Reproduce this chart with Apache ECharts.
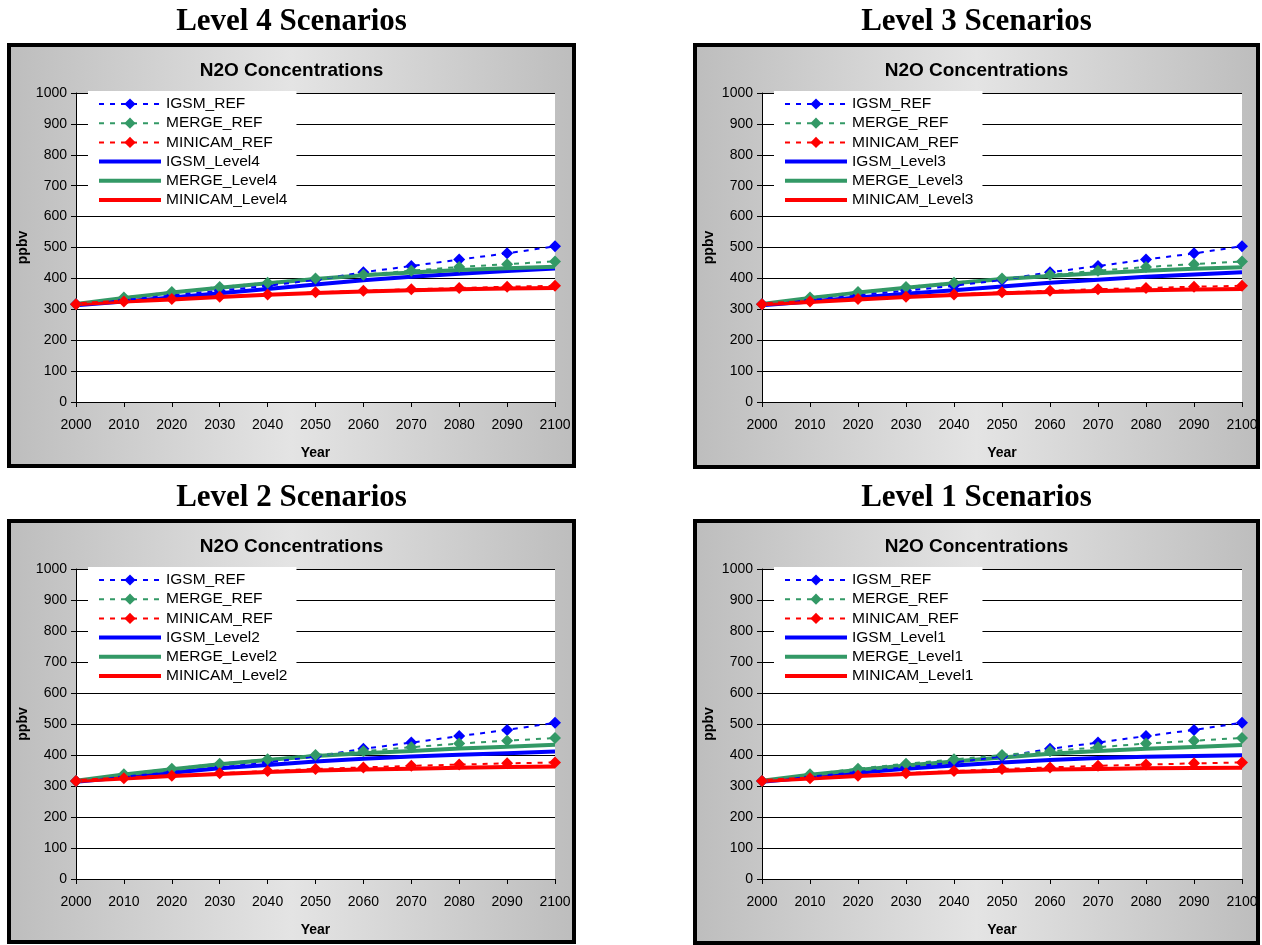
<!DOCTYPE html>
<html>
<head>
<meta charset="utf-8">
<script src="https://cdn.jsdelivr.net/npm/echarts@6/dist/echarts.min.js"></script>
<style>
html,body{margin:0;padding:0;background:#fff;}
#chart{width:1262px;height:945px;}
</style>
</head>
<body>
<div id="chart"></div>
<script>
// ---- data ----
const years = ['2000','2010','2020','2030','2040','2050','2060','2070','2080','2090','2100'];
const levelNames = ['4','3','2','1'];
const panelTitle = 'N2O Concentrations';
const yAxisName = 'ppbv';
const xAxisName = 'Year';

const igsmRef    = [316, 330, 345, 360, 376, 395, 420, 440, 461, 481, 504];
const mergeRef   = [316, 338, 356, 372, 386, 400, 412, 425, 437, 446, 455];
const minicamRef = [316, 325, 333, 341, 348, 355, 360, 365, 369, 373, 376];

const igsmL4    = [313, 325, 338, 352, 366, 380, 394, 405, 415, 424, 432];
const mergeL4   = [317, 337, 354, 370, 384, 398, 410, 419, 427, 433, 438];
const minicamL4 = [316, 325, 332, 340, 347, 353, 358, 362, 365, 367, 369];

const igsmL3    = [313, 325, 338, 350, 362, 374, 386, 396, 405, 413, 420];
const mergeL3   = [317, 337, 354, 370, 384, 398, 408, 417, 425, 431, 436];
const minicamL3 = [316, 324, 332, 340, 346, 352, 356, 359, 362, 364, 366];

const igsmL2    = [314, 328, 343, 357, 368, 379, 388, 395, 401, 406, 411];
const mergeL2   = [317, 337, 354, 370, 384, 397, 406, 413, 421, 427, 433];
const minicamL2 = [316, 324, 332, 339, 345, 350, 353, 356, 359, 361, 363];

const igsmL1    = [314, 328, 343, 356, 366, 376, 384, 390, 394, 397, 399];
const mergeL1   = [317, 336, 352, 366, 379, 392, 404, 413, 420, 426, 432];
const minicamL1 = [316, 324, 332, 339, 345, 349, 353, 355, 357, 358, 359];

const levelData = [
  [igsmL4, mergeL4, minicamL4],
  [igsmL3, mergeL3, minicamL3],
  [igsmL2, mergeL2, minicamL2],
  [igsmL1, mergeL1, minicamL1]
];

// ---- layout ----
const FONT = '"Liberation Sans", Arial, sans-serif';
const grids = [
  {left:76, top:93, width:479, height:309},
  {left:762, top:93, width:480, height:309},
  {left:76, top:569, width:479, height:310},
  {left:762, top:569, width:480, height:310}
];
const frames = [
  {x:9, y:45, w:565, h:421},
  {x:695, y:45, w:563, h:422},
  {x:9, y:521, w:565, h:421},
  {x:695, y:521, w:563, h:422}
];
const colors = {igsm:'#0000ff', merge:'#339966', minicam:'#ff0000'};

const option = {
  animation:false,
  backgroundColor:'#ffffff',
  grid:[], xAxis:[], yAxis:[], series:[], legend:[], graphic:[]
};

grids.forEach((g, i) => {
  const f = frames[i];
  const cx = f.x + f.w/2;
  option.graphic.push({
    type:'rect', z:-100,
    shape:{x:f.x, y:f.y, width:f.w, height:f.h},
    style:{
      fill:new echarts.graphic.LinearGradient(0,0,1,0,[
        {offset:0, color:'#bdbdbd'},
        {offset:0.5, color:'#e4e4e4'},
        {offset:1, color:'#bdbdbd'}
      ]),
      stroke:'#000', lineWidth:4
    }
  });
  option.graphic.push({
    type:'text', z:10, x:cx, y:f.y - 23,
    style:{text:'Level ' + levelNames[i] + ' Scenarios', font:'bold 31px "Liberation Serif", "Times New Roman", serif',
      fill:'#000', textAlign:'center', textVerticalAlign:'middle'}
  });
  option.graphic.push({
    type:'text', z:10, x:cx, y:f.y + 26,
    style:{text:panelTitle, font:'bold 19px ' + FONT,
      fill:'#000', textAlign:'center', textVerticalAlign:'middle'}
  });

  option.grid.push({left:g.left, top:g.top, width:g.width, height:g.height,
    show:true, backgroundColor:'#ffffff', borderWidth:0, containLabel:false});
  option.xAxis.push({
    type:'category', gridIndex:i, data:years, boundaryGap:false,
    name:xAxisName, nameLocation:'middle', nameGap:44,
    nameTextStyle:{fontFamily:FONT, fontWeight:'bold', fontSize:14, color:'#000'},
    axisLine:{lineStyle:{color:'#000', width:1}},
    axisTick:{show:true, length:5, lineStyle:{color:'#000'}},
    axisLabel:{fontFamily:FONT, fontSize:14, color:'#000', margin:16, interval:0},
    splitLine:{show:false}
  });
  option.yAxis.push({
    type:'value', gridIndex:i, min:0, max:1000, interval:100,
    name:yAxisName, nameLocation:'middle', nameGap:46, nameRotate:90,
    nameTextStyle:{fontFamily:FONT, fontWeight:'bold', fontSize:14, color:'#000'},
    axisLine:{show:true, lineStyle:{color:'#000', width:1}},
    axisTick:{show:true, length:5, lineStyle:{color:'#000'}},
    axisLabel:{fontFamily:FONT, fontSize:14, color:'#000', margin:9, formatter:(v) => String(v)},
    splitLine:{show:true, lineStyle:{color:'#000', width:1}}
  });

  const lvl = 'Level' + levelNames[i];
  const names = ['IGSM_REF','MERGE_REF','MINICAM_REF','IGSM_'+lvl,'MERGE_'+lvl,'MINICAM_'+lvl];
  const [ig, me, mi] = levelData[i];
  const solid = (name, data, color) => ({
    type:'line', name, xAxisIndex:i, yAxisIndex:i, data, symbol:'none', clip:false,
    lineStyle:{color, width:4}, itemStyle:{color}, z:2
  });
  const ref = (name, data, color) => ({
    type:'line', name, xAxisIndex:i, yAxisIndex:i, data, symbol:'diamond', symbolSize:12, clip:false,
    lineStyle:{color, width:2, type:[5,6]}, itemStyle:{color}, z:3
  });
  option.series.push(solid(names[3], ig, colors.igsm));
  option.series.push(solid(names[4], me, colors.merge));
  option.series.push(solid(names[5], mi, colors.minicam));
  option.series.push(ref(names[0], igsmRef, colors.igsm));
  option.series.push(ref(names[1], mergeRef, colors.merge));
  option.series.push(ref(names[2], minicamRef, colors.minicam));

  const legendData = names.map((n, k) => k < 3
    ? {name:n}
    : {name:n, itemStyle:{opacity:0}, lineStyle:{width:4}});
  option.legend.push({
    orient:'vertical', left:g.left + 12, top:g.top - 2,
    data:legendData, backgroundColor:'#ffffff',
    padding:[5, 9, 6, 9], itemWidth:62, itemHeight:14, itemGap:3.2,
    selectedMode:false,
    textStyle:{fontFamily:FONT, fontSize:15.5, color:'#000', lineHeight:16},
    z:5
  });
});

const chart = echarts.init(document.getElementById('chart'), null, {renderer:'canvas'});
chart.setOption(option);
</script>
</body>
</html>
